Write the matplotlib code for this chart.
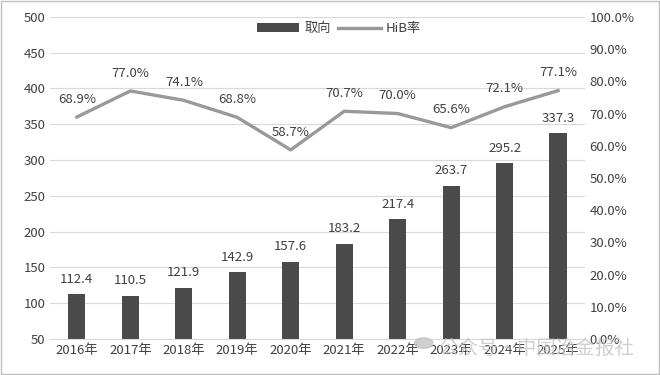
import numpy as np
import matplotlib.pyplot as plt

plt.rcParams['font.family'] = ['Noto Sans CJK SC', 'DejaVu Sans']

years = ['2016年', '2017年', '2018年', '2019年', '2020年', '2021年', '2022年', '2023年', '2024年', '2025年']
quxiang = [112.4, 110.5, 121.9, 142.9, 157.6, 183.2, 217.4, 263.7, 295.2, 337.3]
hib = [68.9, 77.0, 74.1, 68.8, 58.7, 70.7, 70.0, 65.6, 72.1, 77.1]

txt = '#404040'
fig = plt.figure(figsize=(6.6, 3.75), dpi=100)
ax = fig.add_axes([0.076, 0.096, 0.81, 0.859])
x = np.arange(len(years))

# 柱状图
bars = ax.bar(x, quxiang, width=0.32, color='#4a4a4a', label='取向', zorder=2)
ax.set_ylim(50, 500)
ax.set_yticks(range(50, 501, 50))
ax.set_xlim(-0.5, len(years) - 0.5)
ax.set_xticks(x)
ax.set_xticklabels(years)
ax.grid(axis='y', color='#d9d9d9', linewidth=0.8, zorder=0)
for v, xi in zip(quxiang, x):
    ax.text(xi, v + 12, f'{v:.1f}', ha='center', va='bottom', fontsize=9.5, color=txt)

# 折线 HiB率
ax2 = ax.twinx()
line, = ax2.plot(x, hib, color='#999999', linewidth=2.4, label='HiB率', zorder=3)
ax2.set_ylim(0, 100)
ax2.set_yticks(range(0, 101, 10))
ax2.set_yticklabels([f'{t:.1f}%' for t in range(0, 101, 10)])
for v, xi in zip(hib, x):
    ax2.text(xi, v + 3.5, f'{v:.1f}%', ha='center', va='bottom', fontsize=9.5, color=txt)

for a in (ax, ax2):
    for s in a.spines.values():
        s.set_visible(False)
    a.tick_params(length=0, labelsize=9.5, colors=txt)
ax.spines['bottom'].set_visible(True)
ax.spines['bottom'].set_color('#d9d9d9')

leg = ax.legend([bars, line], ['取向', 'HiB率'], loc='upper center', bbox_to_anchor=(0.54, 1.02),
                ncol=2, frameon=False, fontsize=9.5, handlelength=3.2, columnspacing=0.6,
                handletextpad=0.4)
for t in leg.get_texts():
    t.set_color(txt)

# 水印
fig.text(0.665, 0.055, '公众号・中国冶金报社', fontsize=14, color='#c4c4c4', alpha=0.8, zorder=10)
fig.patches.append(plt.Circle((0.642, 0.085), 0.014, transform=fig.transFigure,
                              color='#c4c4c4', alpha=0.8, zorder=10))

# 外框
fig.patches.append(plt.Rectangle((0.002, 0.003), 0.996, 0.994, transform=fig.transFigure,
                                 fill=False, edgecolor='#bfbfbf', linewidth=1))

plt.savefig('out.png', dpi=100)
